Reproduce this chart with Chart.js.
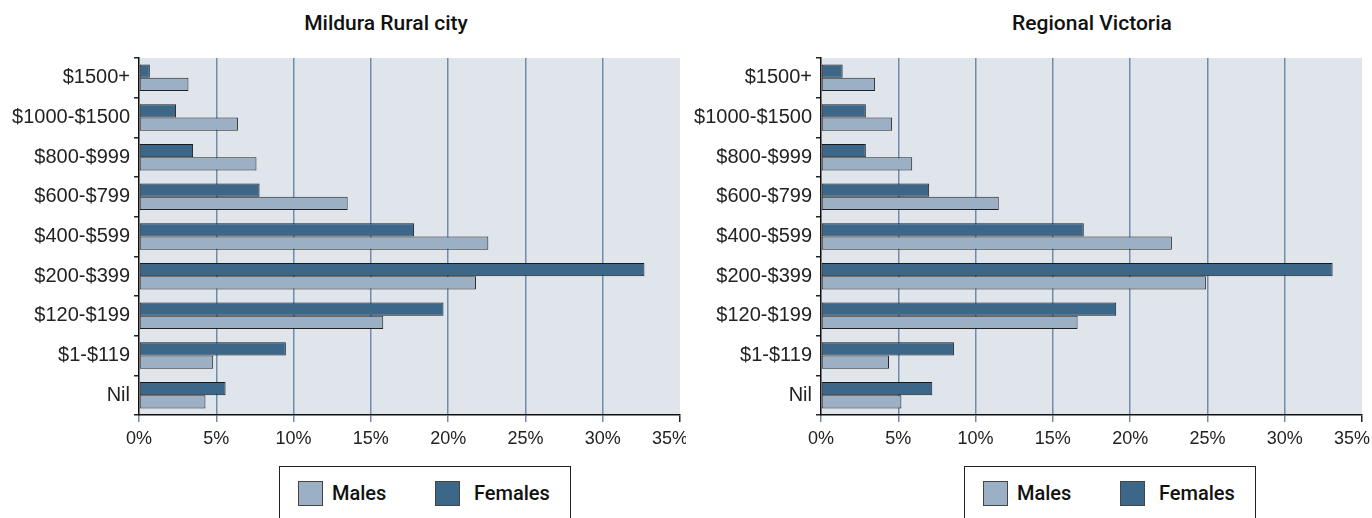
<!DOCTYPE html>
<html>
<head>
<meta charset="utf-8">
<script src="https://cdn.jsdelivr.net/npm/chart.js@4"></script>
<style>
  body { margin: 0; background: #fff; width: 1372px; height: 518px; overflow: hidden; position: relative; font-family: "Liberation Sans", Arial, sans-serif; }
  .panel { position: absolute; top: 0; width: 686px; height: 518px; }
  .panel canvas { position: absolute; left: 0; top: 0; }
  .titulo { position: absolute; top: 10px; width: 300px; text-align: center; font-family: Roboto, sans-serif; font-weight: 500; font-size: 21px; line-height: 26px; color: #111; }
  .leyenda { position: absolute; top: 466px; width: 292px; height: 70px; border: 1px solid #222; box-sizing: border-box; font-family: Roboto, sans-serif; font-weight: 500; font-size: 20px; color: #111; }
  .leyenda span.caja { position: absolute; top: 14px; width: 25px; height: 25px; border: 1px solid #444; box-sizing: border-box; }
  .leyenda span.txt { position: absolute; top: 14px; line-height: 25px; }
</style>
</head>
<body>
<div class="panel" style="left:0">
  <div class="titulo" style="left:236px">Mildura Rural city</div>
  <canvas id="graficoMildura" width="686" height="460"></canvas>
  <div class="leyenda" style="left:279px">
    <span class="caja" style="left:18px;background:#9bb0c5"></span><span class="txt" style="left:52px">Males</span>
    <span class="caja" style="left:155px;background:#3d6788"></span><span class="txt" style="left:194px">Females</span>
  </div>
</div>
<div class="panel" style="left:686px">
  <div class="titulo" style="left:256px">Regional Victoria</div>
  <canvas id="graficoRegional" width="686" height="460"></canvas>
  <div class="leyenda" style="left:278px">
    <span class="caja" style="left:18px;background:#9bb0c5"></span><span class="txt" style="left:52px">Males</span>
    <span class="caja" style="left:155px;background:#3d6788"></span><span class="txt" style="left:194px">Females</span>
  </div>
</div>
<script>
// Datos (% de personas por ingreso semanal)
const categorias = ["$1500+", "$1000-$1500", "$800-$999", "$600-$799", "$400-$599", "$200-$399", "$120-$199", "$1-$119", "Nil"];
const milduraMujeres = [0.7, 2.4, 3.5, 7.8, 17.8, 32.7, 19.7, 9.5, 5.6];
const milduraHombres = [3.2, 6.4, 7.6, 13.5, 22.6, 21.8, 15.8, 4.8, 4.3];
const regionalMujeres = [1.4, 2.9, 2.9, 7.0, 17.0, 33.1, 19.1, 8.6, 7.2];
const regionalHombres = [3.5, 4.6, 5.9, 11.5, 22.7, 24.9, 16.6, 4.4, 5.2];
const ticksX = [0, 5, 10, 15, 20, 25, 30, 35];

// fondo gris azulado del área del gráfico
const fondoArea = {
    id: "fondoArea",
    beforeDraw(chart) {
        const a = chart.chartArea;
        chart.ctx.save();
        chart.ctx.fillStyle = "#e0e5ec";
        chart.ctx.fillRect(a.left, a.top, a.right - a.left, a.bottom - a.top);
        chart.ctx.restore();
    }
};

function crearGrafico(id, mujeres, hombres, anchoEjeY, padDerecha) {
    return new Chart(document.getElementById(id), {
        type: "bar",
        data: {
            labels: categorias,
            datasets: [{
                label: "Females",
                data: mujeres,
                backgroundColor: "#3d6788",
                borderColor: "#1a1a1a",
                borderWidth: 1,
                borderSkipped: false,
                categoryPercentage: 0.67,
                barPercentage: 1.0
            }, {
                label: "Males",
                data: hombres,
                backgroundColor: "#9bb0c5",
                borderColor: "#222",
                borderWidth: 1,
                borderSkipped: false,
                categoryPercentage: 0.67,
                barPercentage: 1.0
            }]
        },
        options: {
            indexAxis: "y",
            responsive: false,
            animation: false,
            devicePixelRatio: 1,
            layout: { padding: { top: 58, right: padDerecha, bottom: 5, left: 0 } },
            plugins: { legend: { display: false }, tooltip: { enabled: false } },
            scales: {
                x: {
                    min: 0,
                    max: 35,
                    afterBuildTicks: s => { s.ticks = ticksX.map(v => ({ value: v })); },
                    afterFit: s => { s.height = 40; s.paddingLeft = 0; s.paddingRight = 0; },
                    ticks: {
                        // la última etiqueta va corrida a la izquierda como en el original
                        callback: v => v === 35 ? "35%\u00a0\u00a0\u00a0\u00a0" : v + "%",
                        color: "#222",
                        font: { family: "Liberation Sans", size: 18 },
                        padding: 6,
                        maxRotation: 0
                    },
                    grid: {
                        color: c => (c.tick && (c.tick.value === 0 || c.tick.value === 35)) ? "rgba(0,0,0,0)" : "#6f8dab",
                        tickColor: c => (c.tick && c.tick.value === 35) ? "#222" : "#6f8dab",
                        lineWidth: 1.5,
                        tickLength: 7
                    },
                    border: { display: true, color: "#111", width: 1.5 }
                },
                y: {
                    afterFit: s => { s.width = anchoEjeY; },
                    ticks: {
                        color: "#222",
                        font: { family: "Liberation Sans", size: 20 },
                        padding: 4
                    },
                    grid: {
                        offset: true,
                        drawOnChartArea: false,
                        tickLength: 5,
                        color: "#222",
                        lineWidth: 1.5
                    },
                    border: { display: true, color: "#111", width: 1.5 }
                }
            }
        },
        plugins: [fondoArea]
    });
}

crearGrafico("graficoMildura", milduraMujeres, milduraHombres, 139, 6);
crearGrafico("graficoRegional", regionalMujeres, regionalHombres, 135, 10);
</script>
</body>
</html>
